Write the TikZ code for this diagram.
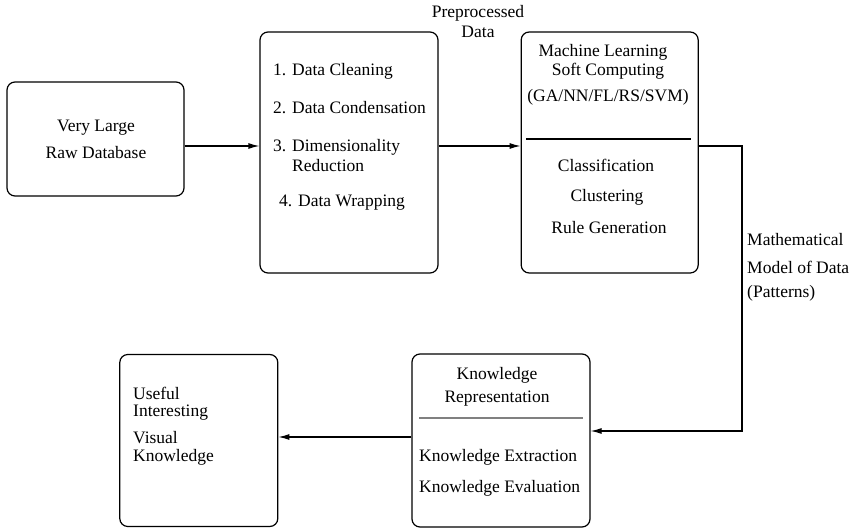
\documentclass[tikz,border=0pt]{standalone}
\usepackage{fontspec}
\setmainfont{Liberation Serif}
\usetikzlibrary{positioning,arrows.meta}
\tikzset{%
box/.style={draw,rounded corners=8pt,line width=1.2pt,inner sep=0},
txt/.style={inner sep=0,font=\fontsize{17.5}{21}\selectfont},
ltxt/.style={txt,anchor=west},
flow/.style={line width=1.2pt,-{Latex[length=11pt,width=6pt]}},
divider/.style={line width=1.2pt}
}
\begin{document}
\begin{tikzpicture}[x=1pt,y=-1pt]
    \useasboundingbox (0,0) rectangle (855,529);

    % boxes
    \node[box,minimum width=177pt,minimum height=114pt] (raw) at (95.5,139) {};
    \node[box,minimum width=178pt,minimum height=241pt] (prep) at (349,152.5) {};
    \node[box,minimum width=177pt,minimum height=241pt] (ml) [right=82pt of prep] {};
    \node[box,minimum width=178pt,minimum height=173pt] (kn) at (501,440.5) {};
    \node[box,minimum width=158pt,minimum height=172pt] (useful) [left=133pt of kn] {};

    \node[txt] (very) at (96,128) {Very Large};
    \node[txt] (rawdb) at (96,153) {Raw Database};

    \node[ltxt] (clean) at (273,71) {1. Data Cleaning};
    \node[ltxt] (cond) at (273,108) {2. Data Condensation};
    \node[ltxt] (dimred) at (273,147) {3. Dimensionality};
    \node[ltxt] (reduc) at (292,166) {Reduction};
    \node[ltxt] (wrap) at (279,203) {4. Data Wrapping};

    \node[txt] (pre) at (478,13) {Preprocessed};
    \node[txt] (predata) at (478,32) {Data};

    \node[txt] (mlt) at (603,52) {Machine Learning};
    \node[txt] (soft) at (608,71) {Soft Computing};
    \node[txt] (algs) at (608,97) {(GA/NN/FL/RS/SVM)};
    \draw[divider] (526,139) -- (691,139);
    \node[txt] (clas) at (606,165) {Classification};
    \node[txt] (clus) at (607,197) {Clustering};
    \node[txt] (rules) at (609,228) {Rule Generation};

    \node[ltxt] (math) at (747,240) {Mathematical};
    \node[ltxt] (model) at (747,267) {Model of Data};
    \node[ltxt] (patt) at (747,293) {(Patterns)};

    \node[txt] (know) at (497,375) {Knowledge};
    \node[txt] (repr) at (497,399) {Representation};
    \draw[divider,gray] (419,418) -- (583,418);
    \node[ltxt] (extr) at (419,457) {Knowledge Extraction};
    \node[ltxt] (eval) at (419,488) {Knowledge Evaluation};

    \node[ltxt] (use) at (133,393) {Useful};
    \node[ltxt] (inter) at (133,413) {Interesting};
    \node[ltxt] (vis) at (133,438) {Visual};
    \node[ltxt] (vknow) at (133,457) {Knowledge};

    % connectors
    \coordinate (row) at (0,146);
    \coordinate (drop) at (742,431);
    \coordinate (back) at (0,437);
    \draw[flow] (raw.east |- row) -- (prep.west |- row);
    \draw[flow] (prep.east |- row) -- (ml.west |- row);
    \draw[flow] (ml.east |- row) -| (drop) -- (kn.east |- drop);
    \draw[flow] (kn.west |- back) -- (useful.east |- back);
\end{tikzpicture}
\end{document}
